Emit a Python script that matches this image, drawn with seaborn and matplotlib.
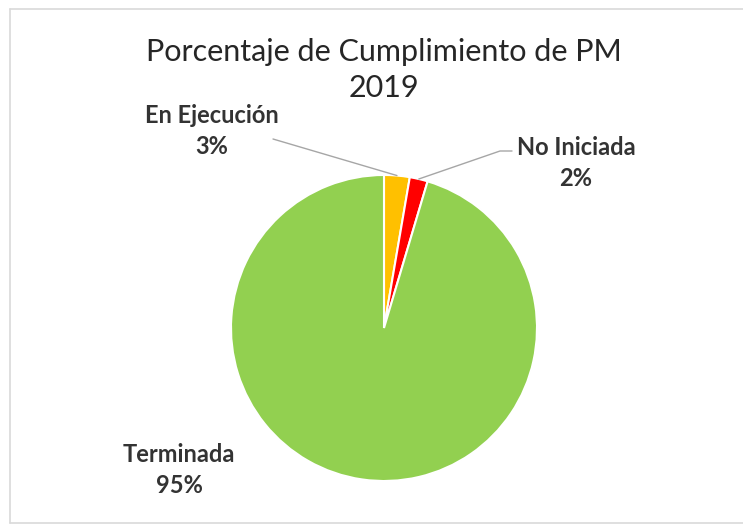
import matplotlib
matplotlib.use("Agg")
import matplotlib.pyplot as plt
import seaborn as sns
import numpy as np
from matplotlib.lines import Line2D

# ---- data ----
categories = ["En Ejecución", "No Iniciada", "Terminada"]
values = [2.7, 1.9, 95.4]
pct_labels = ["3%", "2%", "95%"]
colors = ["#FFC000", "#FF0000", "#92D050"]
title_lines = ["Porcentaje de Cumplimiento de PM", "2019"]

sns.set_theme(style="white")
plt.rcParams["font.family"] = ["Lato", "DejaVu Sans"]

W, H = 743, 531
fig = plt.figure(figsize=(W / 100, H / 100), dpi=100)
fig.patch.set_facecolor("white")

# chart border: left, top, bottom (right side runs off the image)
bx0, by0, by1 = 10 / W, 1 - 9 / H, 1 - 523 / H
for xs, ys in [([bx0, 1.0], [by0, by0]), ([bx0, bx0], [by0, by1]), ([bx0, 1.0], [by1, by1])]:
    fig.add_artist(Line2D(xs, ys, transform=fig.transFigure, color="#D9D9D9", lw=1.2))

# pie axes: center (384,328) px, radius 153 px
cx, cy, r = 384, 328, 153
ax = fig.add_axes([(cx - r) / W, (H - cy - r) / H, 2 * r / W, 2 * r / H])
wedges, _ = ax.pie(values, colors=colors, startangle=90, counterclock=False,
                   wedgeprops=dict(edgecolor="white", linewidth=1.5))
ax.set_xlim(-1, 1)
ax.set_ylim(-1, 1)
ax.set_aspect("equal")
ax.axis("off")

def px(x, y):
    return (x - cx) / r, (cy - y) / r

txt_color = "#333333"
lab_kw = dict(ha="center", va="center", fontsize=17, fontweight="bold",
              color=txt_color, linespacing=1.45)

def mid_pt(w):
    ang = np.deg2rad((w.theta1 + w.theta2) / 2)
    return np.cos(ang), np.sin(ang)

# En Ejecución
x, y = px(212, 131)
ax.text(x, y, f"{categories[0]}\n{pct_labels[0]}", **lab_kw)
mx, my = mid_pt(wedges[0])
sx, sy = px(273, 139)
ax.plot([sx, mx], [sy, my], color="#A6A6A6", lw=1.0, clip_on=False)

# No Iniciada
x, y = px(576, 163)
ax.text(x, y, f"{categories[1]}\n{pct_labels[1]}", **lab_kw)
mx, my = mid_pt(wedges[1])
ax1, ay1 = px(512, 151)
ax2, ay2 = px(500, 151)
ax.plot([ax1, ax2, mx], [ay1, ay2, my], color="#A6A6A6", lw=1.0, clip_on=False)

# Terminada
x, y = px(179, 470)
ax.text(x, y, f"{categories[2]}\n{pct_labels[2]}", **lab_kw)

# title
fig.text(384 / W, 1 - 52 / H, title_lines[0], ha="center", va="center",
         fontsize=22, color="#262626")
fig.text(384 / W, 1 - 88 / H, title_lines[1], ha="center", va="center",
         fontsize=22, color="#262626")

fig.savefig("out.png", dpi=100, facecolor="white")
